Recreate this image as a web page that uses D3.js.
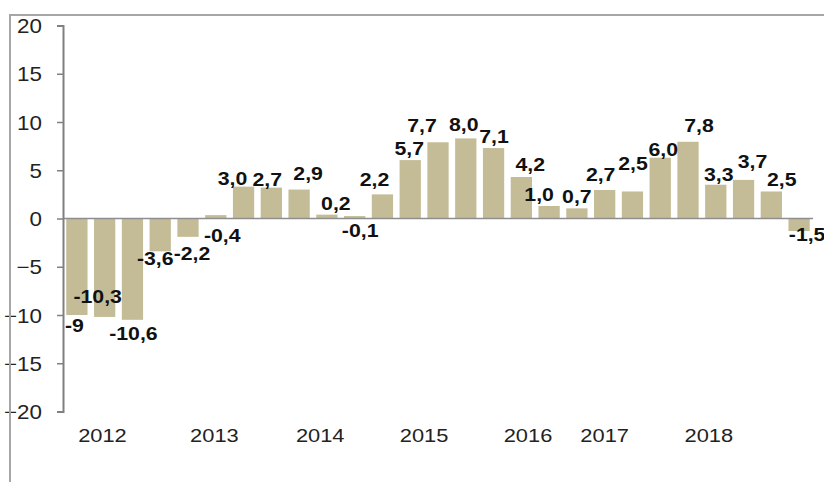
<!DOCTYPE html>
<html>
<head>
<meta charset="utf-8">
<script src="https://cdn.jsdelivr.net/npm/d3@7"></script>
<style>
  body { margin: 0; background: #fff; }
  svg { display: block; font-family: "Liberation Sans", Arial, sans-serif; }
</style>
</head>
<body>
<div id="chart"></div>
<script>
// quarterly values
var values = [-10.0, -10.2, -10.5, -3.4, -1.9, 0.35, 3.3, 3.2, 3.0, 0.4, 0.25, 2.5, 6.05, 7.9,
  8.3, 7.3, 4.3, 1.3, 1.05, 2.95, 2.8, 6.3, 7.95, 3.5, 4.0, 2.8, -1.3];

// printed data labels (as they appear on the chart)
var labels = ["-9", "-10,3", "-10,6", "-3,6", "-2,2", "-0,4", "3,0", "2,7", "2,9", "0,2", "-0,1",
  "2,2", "5,7", "7,7", "8,0", "7,1", "4,2", "1,0", "0,7", "2,7", "2,5", "6,0", "7,8", "3,3",
  "3,7", "2,5", "-1,5"];

var years = ["2012", "2013", "2014", "2015", "2016", "2017", "2018"];
// where each year label sits, in bar units
var yearAt = [0.92, 4.95, 8.76, 12.5, 16.24, 19.0, 22.75];

var yTicks = [-20, -15, -10, -5, 0, 5, 10, 15, 20];

var svgWidth = 824;
var svgHeight = 482;

var svg = d3.select("#chart")
  .append("svg")
  .attr("width", svgWidth)
  .attr("height", svgHeight);

var x = d3.scaleBand()
  .domain(d3.range(values.length))
  .range([63, 813])
  .paddingInner(0.234)
  .paddingOuter(0.117);

var y = d3.scaleLinear()
  .domain([-20, 20])
  .range([411.5, 25.5]);

// hand placed labels in the original: [dx, dy] from the bar end
var labelNudge = [[-2.5, 17], [-7, -14], [1, 20], [-5, 14], [4, 23], [6.5, 27], [-11, -2],
  [-4, -2], [9, -10], [9, -5], [5.5, 21], [-8, -8], [-1, -5], [-16, -10], [-2, -7],
  [0.5, -5], [9, -6], [-10, -5], [0, -5], [-4, -9], [0.5, -21], [3, -2], [11, -10],
  [3, -4], [9, -12], [10.5, -5], [8, 10]];

// bars
svg.append("g")
  .selectAll("rect")
  .data(values)
  .enter()
  .append("rect")
  .attr("x", (d, i) => x(i))
  .attr("width", x.bandwidth())
  .attr("y", d => y(Math.max(0, d)))
  .attr("height", d => Math.abs(y(d) - y(0)))
  .attr("fill", "#c4bc96");

// zero line
svg.append("line")
  .attr("x1", 63)
  .attr("x2", 813)
  .attr("y1", y(0))
  .attr("y2", y(0))
  .attr("stroke", "#8e8e8e")
  .attr("stroke-width", 1.5);

// y axis
var yAxis = svg.append("g")
  .attr("transform", "translate(63,0)")
  .call(d3.axisLeft(y).tickValues(yTicks).tickSize(6).tickSizeOuter(6).tickFormat(d3.format("d")));

yAxis.select(".domain").attr("stroke", "#808080").attr("stroke-width", 2);
yAxis.selectAll(".tick line").attr("stroke", "#808080").attr("stroke-width", 1.5);
yAxis.selectAll(".tick text")
  .attr("x", 0)
  .attr("dy", "0.36em")
  .attr("transform", "translate(-21,0) scale(1.12,1)")
  .attr("font-size", 20)
  .attr("font-family", "Liberation Sans, Arial, sans-serif")
  .attr("fill", "#222");

// data labels
svg.append("g")
  .selectAll("text")
  .data(values)
  .enter()
  .append("text")
  .attr("transform", (d, i) => {
    var cx = x(i) + x.bandwidth() / 2 + labelNudge[i][0];
    var cy = y(d) + labelNudge[i][1];
    return `translate(${cx},${cy}) scale(1.12,1)`;
  })
  .attr("text-anchor", "middle")
  .attr("font-size", 19)
  .attr("font-weight", "bold")
  .attr("fill", "#111")
  .text((d, i) => labels[i]);

// year labels
var step = x.step();
svg.append("g")
  .selectAll("text")
  .data(years)
  .enter()
  .append("text")
  .attr("transform", (d, i) => `translate(${x(0) + x.bandwidth() / 2 + yearAt[i] * step},442) scale(1.15,1)`)
  .attr("text-anchor", "middle")
  .attr("font-size", 19)
  .attr("fill", "#222")
  .text(d => d);

// frame (top and left edges)
svg.append("line")
  .attr("x1", 10).attr("x2", svgWidth)
  .attr("y1", 15).attr("y2", 15)
  .attr("stroke", "#a6a6a6").attr("stroke-width", 2);
svg.append("line")
  .attr("x1", 10).attr("x2", 10)
  .attr("y1", 14).attr("y2", svgHeight)
  .attr("stroke", "#a6a6a6").attr("stroke-width", 2);
</script>
</body>
</html>
